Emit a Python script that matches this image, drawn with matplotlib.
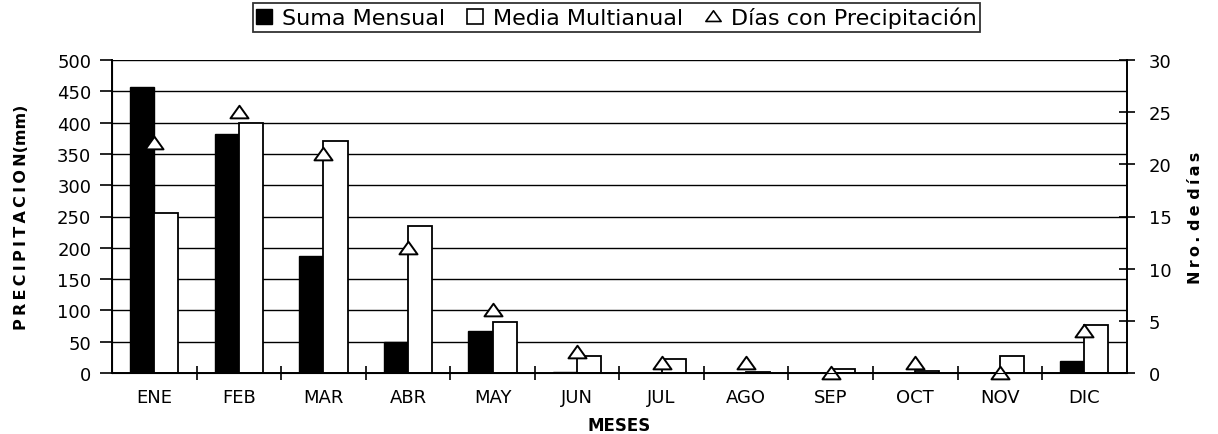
import numpy as np
import matplotlib
matplotlib.use("Agg")
import matplotlib.pyplot as plt
from matplotlib.lines import Line2D
from matplotlib.patches import Patch
from matplotlib.path import Path

plt.rcParams["font.family"] = ["DejaVu Sans"]

meses = ["ENE", "FEB", "MAR", "ABR", "MAY", "JUN", "JUL", "AGO", "SEP", "OCT", "NOV", "DIC"]
suma_mensual = [457, 381, 187, 50, 67, 2, 0, 0, 0, 0, 0, 19]
media_multianual = [255, 400, 370, 235, 82, 28, 23, 2, 7, 4, 27, 76]
dias_precip = [22, 25, 21, 12, 6, 2, 1, 1, 0, 1, 0, 4]

x = np.arange(len(meses))
w = 0.285

# wide, flat triangle marker
tri = Path([(-1, -0.65), (1, -0.65), (0, 0.75), (-1, -0.65)],
           [Path.MOVETO, Path.LINETO, Path.LINETO, Path.CLOSEPOLY])

fig = plt.figure(figsize=(12.18, 4.35), dpi=100)
ax = fig.add_axes([0.092, 0.140, 0.833, 0.720])

ax.set_axisbelow(True)
ax.yaxis.grid(True, color="black", linewidth=1)
ax.bar(x - w / 2, suma_mensual, w, color="black", edgecolor="black", linewidth=1)
ax.bar(x + w / 2, media_multianual, w, color="white", edgecolor="black", linewidth=1.3)

ax.set_xlim(-0.5, len(meses) - 0.5)
ax.set_ylim(0, 500)
ax.set_yticks(np.arange(0, 501, 50))
ax.set_xticks(np.arange(0.5, len(meses) - 1, 1))
ax.set_xticklabels([])
ax.set_xticks(x, minor=True)
ax.set_xticklabels(meses, minor=True)
ax.tick_params(axis="x", which="major", direction="inout", length=10, width=1.2)
ax.tick_params(axis="x", which="minor", length=0, pad=11, labelsize=13)
ax.tick_params(axis="y", direction="out", length=9, width=1.2, labelsize=13, pad=6)
for s in ["left", "bottom"]:
    ax.spines[s].set_linewidth(1.4)
ax.spines["top"].set_visible(False)
ax.spines["right"].set_visible(False)

ts = "\u2009"
ax.set_ylabel(ts.join("PRECIPITACION") + "(mm)", fontsize=11.5, fontweight="bold")
ax.yaxis.set_label_coords(-0.082, 0.5)
ax.set_xlabel("MESES", fontsize=12, fontweight="bold")
ax.xaxis.set_label_coords(0.5, -0.137)

ax2 = ax.twinx()
ax2.plot(x, dias_precip, linestyle="none", marker=tri, markersize=13,
         markerfacecolor="white", markeredgecolor="black", markeredgewidth=1.4, clip_on=False)
ax2.set_ylim(0, 30)
ax2.set_yticks(np.arange(0, 31, 5))
ax2.tick_params(axis="y", direction="inout", length=12, width=1.2, labelsize=13, pad=10)
ax2.spines["right"].set_linewidth(1.4)
ax2.spines["top"].set_visible(False)
ax2.set_ylabel(ts.join("Nro.") + " " + ts.join("de") + " " + ts.join("días"),
               fontsize=11.5, fontweight="bold")
ax2.yaxis.set_label_coords(1.06, 0.5)

handles = [
    Patch(facecolor="black", edgecolor="black"),
    Patch(facecolor="white", edgecolor="black", linewidth=1.2),
    Line2D([], [], linestyle="none", marker=tri, markersize=11,
           markerfacecolor="white", markeredgecolor="black", markeredgewidth=1.2),
]
labels = ["Suma Mensual", "Media Multianual", "Días con Precipitación"]
leg = fig.legend(handles, labels, loc="upper center", bbox_to_anchor=(0.506, 0.99),
                 ncol=3, fontsize=16, frameon=True, fancybox=False,
                 handlelength=0.7, handleheight=0.7, handletextpad=0.45,
                 columnspacing=1.0, borderpad=0.15, borderaxespad=0)
leg.get_frame().set_edgecolor("black")
leg.get_frame().set_linewidth(1.3)

fig.savefig("out.png", dpi=100)
